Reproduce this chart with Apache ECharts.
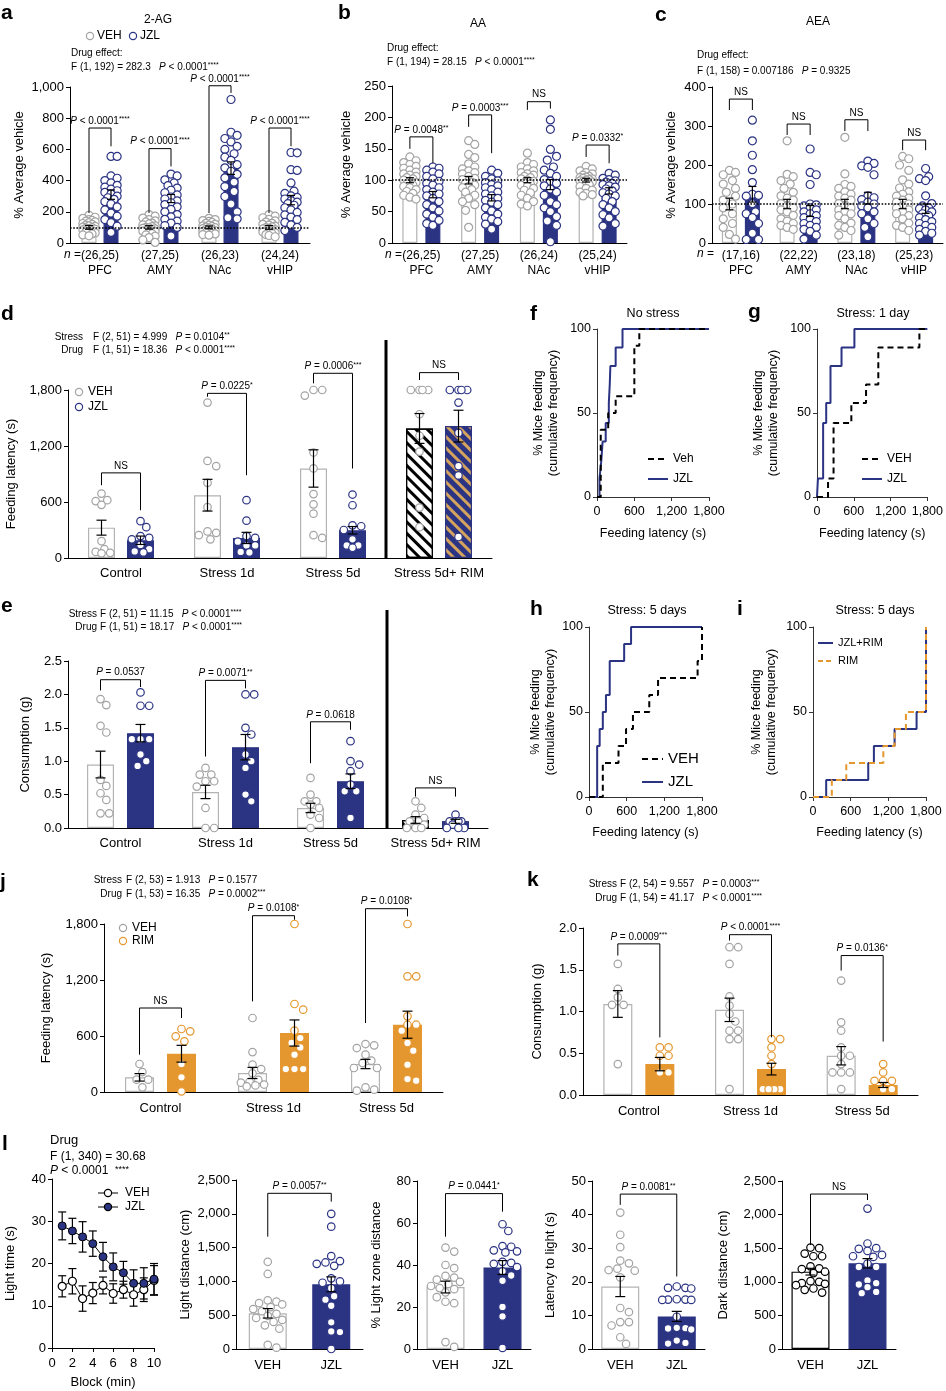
<!DOCTYPE html>
<html>
<head>
<meta charset="utf-8">
<script src="https://cdn.jsdelivr.net/npm/echarts@6/dist/echarts.min.js"></script>
<style>
html, body { margin: 0; background: #fff; }
#main { width: 946px; height: 1391px; }
</style>
</head>
<body>
<div id="main"></div>
<script>
// ---------- data ----------
var regions = ['PFC', 'AMY', 'NAc', 'vHIP'];

// a: 2-AG
var agN = ['(26,25)', '(27,25)', '(26,23)', '(24,24)'];
var agVehMean = [100, 100, 100, 100], agVehSem = [12, 11, 9, 12];
var agJzlMean = [310, 285, 480, 275], agJzlSem = [30, 26, 40, 30];
var agVehDots = [
  [178,165,158,150,145,140,135,130,125,120,115,110,106,102,98,95,92,88,84,80,75,70,64,58,52,46],
  [182,172,160,150,142,135,128,122,116,110,105,100,97,94,90,87,84,80,76,72,66,60,52,44,35,20,4],
  [158,150,144,138,132,126,120,115,110,106,102,98,95,92,89,86,83,80,77,74,70,66,62,58,54,50],
  [182,172,162,152,142,134,126,120,114,108,103,98,94,90,86,82,78,74,70,65,60,54,48,40]
];
var agJzlDots = [
  [555,555,430,415,400,385,370,358,345,335,325,315,300,290,280,265,250,232,212,192,172,150,130,108,68],
  [442,430,405,385,368,352,338,322,308,295,282,270,258,246,232,215,200,182,168,152,140,128,112,100,45],
  [920,710,690,670,648,620,600,572,550,530,502,482,460,440,418,390,362,330,298,250,200,162,155],
  [580,578,470,465,385,332,318,302,292,282,272,262,252,242,226,212,196,180,166,150,132,116,100,80]
];
var agBrackets = [[737,192,620], [605,192,491], [1008,192,962], [737,192,620]];
var agPText = ['P < 0.0001****', 'P < 0.0001****', 'P < 0.0001****', 'P < 0.0001****'];

// b: AA
var aaN = ['(26,25)', '(27,25)', '(26,24)', '(25,24)'];
var aaVehMean = [100, 100, 100, 100], aaVehSem = [4, 6, 4, 3];
var aaJzlMean = [77, 72, 93, 83], aaJzlSem = [5, 5, 8, 5];
var aaVehDots = [
  [137,131,128,125,122,119,116,113,110,108,106,104,102,100,98,96,94,92,90,88,85,82,79,76,73,70],
  [163,157,141,136,126,121,118,115,112,110,106,103,101,99,97,95,92,90,88,85,81,76,71,66,61,52,25],
  [143,128,125,121,118,115,112,110,108,106,104,102,100,98,96,94,92,90,87,84,80,76,71,66,62,59],
  [122,118,115,112,110,108,106,105,104,103,102,101,100,99,98,97,95,93,90,87,84,81,79,77,75]
];
var aaJzlDots = [
  [121,119,116,113,110,106,102,98,95,92,88,85,81,78,75,71,66,61,56,51,46,41,36,31,28],
  [116,111,106,102,99,96,93,91,88,85,81,78,75,71,68,65,61,56,51,46,41,38,34,30,22],
  [196,181,149,138,132,121,116,111,106,101,98,95,91,86,81,76,66,61,56,50,42,35,28,2],
  [111,108,103,101,99,97,95,93,91,89,86,83,80,78,75,71,66,61,56,50,45,40,31,27]
];
var aaBrackets = [[169,150,127], [204,185,143], [225,212,214], [156,137,127]];
var aaPText = ['P = 0.0048**', 'P = 0.0003***', 'NS', 'P = 0.0332*'];

// c: AEA
var aeaN = ['(17,16)', '(22,22)', '(23,18)', '(25,23)'];
var aeaVehMean = [100, 100, 100, 100], aeaVehSem = [15, 12, 12, 12];
var aeaJzlMean = [125, 82, 115, 88], aeaJzlSem = [20, 14, 15, 12];
var aeaVehDots = [
  [186,181,175,160,151,140,130,120,110,100,90,75,62,50,40,22,10],
  [262,176,170,160,151,140,130,121,115,110,101,95,90,85,80,71,62,56,50,45,40,35],
  [271,177,150,145,140,131,125,120,115,110,101,95,90,85,80,75,70,62,51,45,40,32,20],
  [222,216,200,186,162,151,141,131,125,120,115,110,105,100,95,90,85,80,75,70,62,51,45,40,32]
];
var aeaJzlDots = [
  [315,262,225,188,155,125,122,120,101,80,75,65,50,25,9,9],
  [241,181,175,150,100,98,95,90,85,80,75,70,65,60,55,50,45,40,35,30,20,10],
  [210,204,198,194,175,121,116,111,105,100,95,90,80,75,62,50,40,16],
  [191,170,165,160,121,101,95,90,88,85,80,75,70,65,60,55,50,45,40,35,30,25,20]
];
var aeaBrackets = [[369,341,341], [305,277,277], [316,287,287], [264,238,238]];
var aeaPText = ['NS', 'NS', 'NS', 'NS'];

// d: feeding latency, VEH vs JZL
var stressGroups = ['Control', 'Stress 1d', 'Stress 5d', 'Stress 5d+ RIM'];
var latVehMean = [325, 673, 959, 1388], latVehSem = [80, 170, 200, 160];
var latJzlMean = [190, 215, 297, 1413], latJzlSem = [45, 60, 40, 170];
var latVehDots = [
  [690,620,610,570,180,95,65,55,50],
  [1665,1040,985,805,545,285,270,245,200],
  [1800,1800,1740,1130,960,685,575,475,245,215],
  [1800,1800,1800,1800,1540,1310,1140,540,330]
];
var latJzlDots = [
  [395,330,235,215,200,140,95,70,60],
  [620,400,235,215,175,135,135,65,60],
  [680,565,350,340,300,200,135,135,110],
  [1800,1800,1800,1800,1665,1340,985,885,225]
];
var latBrackets = [[912,780,512], [1764,1728,887], [1979,1871,959], [1986,1907,1907]];
var latPText = ['NS', 'P = 0.0225*', 'P = 0.0006***', 'NS'];

// e: consumption, VEH vs JZL
var consVehMean = [0.95, 0.54, 0.30, 0.12], consVehSem = [0.2, 0.1, 0.07, 0.05];
var consJzlMean = [1.42, 1.21, 0.70, 0.10], consJzlSem = [0.13, 0.19, 0.11, 0.03];
var consVehDots = [
  [1.93,1.84,1.53,1.43,0.72,0.63,0.52,0.42,0.22,0.22],
  [0.9,0.8,0.8,0.7,0.7,0.62,0.3,0,0],
  [0.75,0.5,0.4,0.4,0.35,0.3,0.2,0.15,0],
  [0.4,0.3,0.2,0.15,0.1,0.1,0.05,0,0,0]
];
var consJzlDots = [
  [2.03,1.83,1.83,1.33,1.33,1.33,1.1,1.0,0.93],
  [2.0,2.0,1.5,1.4,1.1,1.0,0.9,0.5,0.4],
  [1.3,1.0,0.95,0.85,0.65,0.55,0.55,0.15],
  [0.2,0.1,0.1,0.1,0.1,0.05,0,0,0]
];
var consBrackets = [[2.22,2.06,2.11], [2.21,1.07,2.09], [1.59,0.97,1.47], [0.6,0.47,0.47]];
var consPText = ['P = 0.0537', 'P = 0.0071**', 'P = 0.0618', 'NS'];

// f-i: cumulative frequency (latency s, % mice feeding)
var fVehLat = [0,60,180,300,600,680,1800],            fVehPct = [0,40,50,60,90,100,100];
var fJzlLat = [0,40,70,90,140,190,205,215,300,410,1800], fJzlPct = [0,11,22,33,44,56,67,78,89,100,100];
var gVehLat = [0,180,270,560,800,1000,1670,1800],     gVehPct = [0,11,44,56,67,89,100,100];
var gJzlLat = [0,15,100,150,220,400,610,1800],        gJzlPct = [0,11,44,56,78,89,100,100];
var hVehLat = [0,220,470,590,700,960,1100,1730,1800], hVehPct = [0,20,30,40,50,60,70,80,100];
var hJzlLat = [0,130,170,220,270,330,560,670,1800],   hJzlPct = [0,30,40,50,60,80,90,100,100];
var iJrLat = [0,210,880,970,1300,1650,1800],          iJrPct = [0,10,20,30,40,50,100];
var iRimLat = [0,300,530,1120,1300,1480,1800],        iRimPct = [0,10,20,30,40,50,100];

// j: feeding latency, VEH vs RIM
var rimGroups = ['Control', 'Stress 1d', 'Stress 5d'];
var jVehMean = [157, 204, 300], jVehSem = [40, 60, 50];
var jRimMean = [410, 632, 721], jRimSem = [90, 140, 145];
var jVehDots = [
  [300,214,132,132,50],
  [793,428,293,246,200,130,110,100,80,70,60],
  [514,500,471,400,336,310,257,257,50,25,14]
];
var jRimDots = [
  [675,650,596,543,300,157,7],
  [1800,943,882,657,578,525,478,400,246,246,246],
  [1800,1239,1239,811,721,721,657,525,443,293,139,121]
];
var jBrackets = [[900,400,793], [1889,971,1846], [1964,739,1882]];
var jPText = ['NS', 'P = 0.0108*', 'P = 0.0108*'];

// k: consumption, VEH vs RIM
var kVehMean = [1.09, 1.02, 0.47], kVehSem = [0.16, 0.14, 0.11];
var kRimMean = [0.37, 0.31, 0.12], kRimSem = [0.08, 0.07, 0.03];
var kVehDots = [
  [1.57,1.27,1.17,1.08,1.08,0.37],
  [1.77,1.77,1.57,1.18,1.07,0.97,0.88,0.77,0.77,0.67,0.67,0.07],
  [1.37,0.87,0.77,0.57,0.47,0.47,0.37,0.27,0.27,0.27,0.07]
];
var kRimDots = [
  [0.57,0.57,0.47,0.47,0.27,0.27],
  [0.67,0.67,0.57,0.47,0.37,0.07,0.07,0.07,0.07,0.07],
  [0.37,0.27,0.17,0.17,0.17,0.07,0.07]
];
var kBrackets = [[1.81,1.67,0.69], [1.92,1.85,0.69], [1.67,1.49,0.64]];
var kPText = ['P = 0.0009***', 'P < 0.0001****', 'P = 0.0136*'];

// l: light/dark box
var blocks = [1, 2, 3, 4, 5, 6, 7, 8, 9, 10];
var ltVehMean = [14.6, 15.8, 11.7, 13.0, 14.8, 12.9, 13.8, 12.6, 13.8, 16.0];
var ltVehSem  = [2.5, 3.0, 3.0, 2.5, 2.0, 2.3, 2.0, 2.7, 2.8, 3.5];
var ltJzlMean = [28.9, 27.7, 26.3, 24.7, 21.6, 19.2, 17.8, 15.3, 15.3, 16.3];
var ltJzlSem  = [3.3, 3.0, 3.6, 3.0, 3.4, 3.3, 2.7, 3.2, 3.7, 3.7];

var ldMean = [528, 957], ldSem = [70, 110];
var ldVehDots = [1290,1110,720,700,680,660,620,590,560,520,490,460,430,400,350,300,60,20];
var ldJzlDots = [2000,1810,1375,1300,1280,1260,1230,1045,1000,980,900,780,730,640,395,260,250,0];
var lzMean = [29.5, 38.8], lzSem = [2.8, 3.3];
var lzVehDots = [48.3,46.4,40,38.5,34.8,34,33,32,31,30,29,28.5,27,24.7,22.5,21.8,3.3,1];
var lzJzlDots = [59.4,56.2,49,48.7,47,46.5,46,41.5,41,40.5,39,37,35,32.5,20,15.5,0.5];
var llMean = [18.6, 9.7], llSem = [3.0, 1.5];
var llVehDots = [40.6,34,30.3,26.3,25.5,23.9,23.5,23.3,21.3,12.2,11,8,8,7,3.5,1.5];
var llJzlDots = [18.6,18.2,18.2,18.0,14.8,14.7,14.7,14.6,14.6,9.6,6.3,6.2,6.1,5.8,2.5,1.8,1.6];
var ddMean = [1151, 1275], ddSem = [50, 70];
var ddVehDots = [1510,1500,1420,1380,1380,1230,1200,1190,1150,1130,1010,1000,980,970,950,900,880,840];
var ddJzlDots = [2090,1570,1500,1490,1460,1400,1380,1370,1270,1220,1220,1020,980,960,920,850,830];
var lBracketLd = [[2303,1662,2180]], lBracketLz = [[74,53.5,65.4]], lBracketLl = [[46.1,42.9,21.6]], lBracketDd = [[2306,1547,2217]];

// ---------- styling ----------
var FONT = "'Liberation Sans', Arial, Helvetica, sans-serif";
var NAVY = '#2b3383', GRAY = '#a3a3a3', VB = '#b3b3b3', ORANGE = '#e5972f', TAN = '#d4a35e', AX = '#333';

function comma(v) { return Number(v).toLocaleString('en-US'); }
function fix1(v) { return Number(v).toFixed(1); }
function fmtP(s) {
  return s.replace(/(^|\s)([Pn])(?=\s)/g, '$1{i|$2}').replace(/\*+/g, function (m) { return '{s|' + m + '}'; });
}
function richStyles(fs) {
  return {
    i: { fontStyle: 'italic', fontSize: fs, fontFamily: FONT, fill: '#000' },
    s: { fontSize: Math.round(fs * 0.72), fontFamily: FONT, verticalAlign: 'top', fill: '#000' }
  };
}

var option = {
  animation: false,
  backgroundColor: '#fff',
  textStyle: { fontFamily: FONT },
  grid: [], xAxis: [], yAxis: [], series: [], graphic: []
};

function txt(x, y, s, o) {
  o = o || {};
  var fs = o.size || 10;
  option.graphic.push({
    type: 'text', x: x, y: y, silent: true, z: 100,
    style: {
      text: o.raw ? s : fmtP(s), fill: '#000',
      font: (o.bold ? 'bold ' : '') + fs + 'px ' + FONT,
      textAlign: o.align || 'left', align: o.align || 'left',
      textVerticalAlign: 'middle', verticalAlign: 'middle',
      rich: richStyles(fs)
    }
  });
}
function gline(x1, y1, x2, y2, color, w, dash) {
  option.graphic.push({
    type: 'line', silent: true, z: 100,
    shape: { x1: x1, y1: y1, x2: x2, y2: y2 },
    style: { stroke: color, lineWidth: w, lineDash: dash || null }
  });
}
function gdot(x, y, stroke, fill) {
  option.graphic.push({
    type: 'circle', silent: true, z: 101, x: x, y: y,
    shape: { cx: 0, cy: 0, r: 3.6 },
    style: { fill: fill || '#fff', stroke: stroke, lineWidth: 1.2 }
  });
}

function yAx(gi, p) {
  var c = p.axisColor || '#000';
  return {
    type: 'value', gridIndex: gi, min: 0, max: p.yMax, interval: p.yStep,
    splitLine: { show: false },
    axisLine: { show: true, lineStyle: { color: c, width: 1 } },
    axisTick: { show: true, length: 4, lineStyle: { color: c } },
    axisLabel: { color: '#000', fontSize: p.yFont || 13, fontFamily: FONT, margin: 6, formatter: p.yFmt },
    name: p.yName, nameLocation: 'middle', nameGap: p.nameGap,
    nameTextStyle: { color: '#000', fontSize: p.nameFont || 13, fontFamily: FONT, lineHeight: 15 }
  };
}

// beeswarm offsets (pixels) so dots do not pile up on one line
function swarm(vals, k, d, maxW) {
  var order = vals.map(function (v, i) { return i; }).sort(function (a, b) { return vals[b] - vals[a]; });
  var cands = [0];
  for (var m = 1; m * d / 3 <= maxW + 0.01; m++) cands.push(m * d / 3, -m * d / 3);
  var placed = [], offs = [];
  order.forEach(function (i) {
    var y = vals[i] * k, best = 0, bestScore = -1;
    for (var c = 0; c < cands.length; c++) {
      var x = cands[c], mind = Infinity;
      placed.forEach(function (q) {
        var dd = Math.sqrt((q.x - x) * (q.x - x) + (q.y - y) * (q.y - y));
        if (dd < mind) mind = dd;
      });
      if (mind >= d * 0.95) { best = x; break; }
      if (mind > bestScore + 0.5) { bestScore = mind; best = x; }
    }
    placed.push({ x: best, y: y });
    offs[i] = best;
  });
  return offs;
}

function errRender(cap, w) {
  return function (params, api) {
    var x = api.coord([api.value(0), 0])[0] + api.value(3);
    var y1 = api.coord([api.value(0), api.value(1)])[1];
    var y2 = api.coord([api.value(0), api.value(2)])[1];
    var st = { stroke: '#000', lineWidth: w || 1.2 };
    return {
      type: 'group', children: [
        { type: 'line', shape: { x1: x, y1: y1, x2: x, y2: y2 }, style: st },
        { type: 'line', shape: { x1: x - cap, y1: y1, x2: x + cap, y2: y1 }, style: st },
        { type: 'line', shape: { x1: x - cap, y1: y2, x2: x + cap, y2: y2 }, style: st }
      ]
    };
  };
}

function barPanel(p) {
  var gi = option.grid.length;
  option.grid.push({ left: p.left, top: p.top, width: p.width, height: p.height });
  option.xAxis.push({
    type: 'category', gridIndex: gi, data: p.cats,
    axisLine: { lineStyle: { color: '#000' } },
    axisTick: { alignWithLabel: true, length: 4, lineStyle: { color: '#000' } },
    axisLabel: { color: '#000', fontSize: p.catFont || 13, fontFamily: FONT, margin: p.catMargin || 7, lineHeight: 15, interval: 0 }
  });
  option.yAxis.push(yAx(gi, p));
  var k = p.height / p.yMax, off = p.off || 0;
  var gap = off ? ((2 * off - p.bw) / p.bw * 100) + '%' : '-100%';
  p.sets.forEach(function (s, si) {
    var side = off ? (si === 0 ? -1 : 1) : 0;
    var bar = {
      type: 'bar', xAxisIndex: gi, yAxisIndex: gi, barWidth: p.bw, barGap: gap, silent: true, z: 1,
      itemStyle: { color: s.fill, borderColor: s.border, borderWidth: 1.2 },
      data: s.mean.map(function (m, i) {
        if (m == null) return '-';
        var it = { value: m };
        if (s.special && s.special[i]) it.itemStyle = s.special[i];
        return it;
      })
    };
    if (p.refLine != null && si === 0) {
      bar.markLine = {
        silent: true, symbol: ['none', 'none'], label: { show: false },
        lineStyle: { type: 'dotted', color: '#000', width: 1.6 },
        data: [{ yAxis: p.refLine }]
      };
    }
    option.series.push(bar);
    var pts = [];
    s.dots.forEach(function (arr, i) {
      if (!arr) return;
      var offs = swarm(arr, k, p.dot + 1.2, p.spread);
      arr.forEach(function (v, j) {
        pts.push({ value: [i, v], symbolOffset: [side * off + offs[j], 0] });
      });
    });
    option.series.push({
      type: 'scatter', xAxisIndex: gi, yAxisIndex: gi, symbol: 'circle', symbolSize: p.dot,
      silent: true, z: 3, clip: false, data: pts,
      itemStyle: { color: '#fff', borderColor: s.dotColor, borderWidth: 1.2, opacity: 1 }
    });
    var eb = [];
    s.mean.forEach(function (m, i) {
      if (m != null) eb.push([i, m - s.sem[i], m + s.sem[i], side * off]);
    });
    option.series.push({
      type: 'custom', xAxisIndex: gi, yAxisIndex: gi, z: 4, silent: true, clip: false,
      data: eb, renderItem: errRender(p.cap || 4)
    });
  });
  if (p.brackets) {
    var fs = p.pFont || 10;
    option.series.push({
      type: 'custom', xAxisIndex: gi, yAxisIndex: gi, z: 5, silent: true, clip: false,
      data: p.brackets.map(function (b, i) {
        return off ? [i, i, b[0], b[1], b[2]] : [0, 1, b[0], b[1], b[2]];
      }),
      renderItem: function (params, api) {
        var xl = api.coord([api.value(0), 0])[0] - off;
        var xr = api.coord([api.value(1), 0])[0] + off;
        var yt = api.coord([0, api.value(2)])[1];
        var yl = api.coord([0, api.value(3)])[1];
        var yr = api.coord([0, api.value(4)])[1];
        return {
          type: 'group', children: [
            { type: 'polyline', shape: { points: [[xl, yl], [xl, yt], [xr, yt], [xr, yr]] },
              style: { stroke: '#000', lineWidth: 1, fill: 'none' } },
            { type: 'text', style: {
                text: fmtP(p.pText[params.dataIndex]), x: (xl + xr) / 2, y: yt - 2, fill: '#000',
                font: fs + 'px ' + FONT, textAlign: 'center', align: 'center',
                textVerticalAlign: 'bottom', verticalAlign: 'bottom', rich: richStyles(fs) } }
          ]
        };
      }
    });
  }
}

function cdfPanel(p) {
  var gi = option.grid.length;
  option.grid.push({ left: p.left, top: p.top, width: p.width, height: p.height });
  option.xAxis.push({
    type: 'value', gridIndex: gi, min: 0, max: 1800, interval: 600, splitLine: { show: false },
    axisLine: { lineStyle: { color: AX } }, axisTick: { show: true, length: 4, lineStyle: { color: AX } },
    axisLabel: { color: '#000', fontSize: 12.5, fontFamily: FONT, margin: 8, formatter: comma },
    name: 'Feeding latency (s)', nameLocation: 'middle', nameGap: p.xGap,
    nameTextStyle: { color: '#000', fontSize: 12.5, fontFamily: FONT }
  });
  option.yAxis.push(yAx(gi, {
    yMax: 100, yStep: 50, yName: '% Mice feeding\n(cumulative frequency)', nameGap: p.nameGap,
    axisColor: AX, yFont: 12.5, nameFont: 12.5
  }));
  p.lines.forEach(function (l) {
    option.series.push({
      type: 'line', xAxisIndex: gi, yAxisIndex: gi, step: 'end', symbol: 'none', silent: true,
      clip: false, z: l.dash ? 3 : 2,
      data: l.lat.map(function (x, i) { return [x, l.pct[i]]; }),
      lineStyle: { color: l.color, width: 2, type: l.dash ? [6, 4] : 'solid' }
    });
  });
}

var vehSet = function (mean, sem, dots, special) {
  return { fill: '#fff', border: VB, dotColor: GRAY, mean: mean, sem: sem, dots: dots, special: special };
};
var jzlSet = function (mean, sem, dots, special) {
  return { fill: NAVY, border: NAVY, dotColor: NAVY, mean: mean, sem: sem, dots: dots, special: special };
};
var rimSet = function (mean, sem, dots) {
  return { fill: ORANGE, border: ORANGE, dotColor: ORANGE, mean: mean, sem: sem, dots: dots };
};
function hatch(fill, border, stripe) {
  return {
    color: fill, borderColor: border, borderWidth: 1.2,
    decal: { symbol: 'rect', symbolSize: 1, color: stripe, dashArrayX: [1, 0], dashArrayY: [3, 5], rotation: Math.PI / 4 }
  };
}
function withN(n) { return regions.map(function (r, i) { return n[i] + '\n' + r; }); }

// ---------- a, b, c ----------
var abcCommon = { yFmt: comma, yName: '% Average vehicle', bw: 15, dot: 8, cap: 4, spread: 6.5, catFont: 12, catMargin: 5, refLine: 100, pFont: 10 };
barPanel(Object.assign({}, abcCommon, {
  left: 70, top: 87, width: 240, height: 156, cats: withN(agN), yMax: 1000, yStep: 200, nameGap: 43, off: 11,
  brackets: agBrackets, pText: agPText,
  sets: [vehSet(agVehMean, agVehSem, agVehDots), jzlSet(agJzlMean, agJzlSem, agJzlDots)]
}));
barPanel(Object.assign({}, abcCommon, {
  left: 392, top: 86, width: 235, height: 157, cats: withN(aaN), yMax: 250, yStep: 50, nameGap: 38, off: 11.5,
  brackets: aaBrackets, pText: aaPText,
  sets: [vehSet(aaVehMean, aaVehSem, aaVehDots), jzlSet(aaJzlMean, aaJzlSem, aaJzlDots)]
}));
barPanel(Object.assign({}, abcCommon, {
  left: 712, top: 87, width: 231, height: 156, cats: withN(aeaN), yMax: 400, yStep: 100, nameGap: 33, off: 11.5,
  brackets: aeaBrackets, pText: aeaPText,
  sets: [vehSet(aeaVehMean, aeaVehSem, aeaVehDots), jzlSet(aeaJzlMean, aeaJzlSem, aeaJzlDots)]
}));

// ---------- d, e ----------
barPanel({
  left: 68, top: 390, width: 424, height: 168, cats: stressGroups, yMax: 1800, yStep: 600, yFmt: comma,
  yName: 'Feeding latency (s)', nameGap: 49, bw: 27, off: 19.5, dot: 7.5, cap: 5, spread: 11, catMargin: 8,
  brackets: latBrackets, pText: latPText,
  sets: [
    vehSet(latVehMean, latVehSem, latVehDots, [null, null, null, hatch('#fff', '#000', '#000')]),
    jzlSet(latJzlMean, latJzlSem, latJzlDots, [null, null, null, hatch(NAVY, NAVY, TAN)])
  ]
});
barPanel({
  left: 68, top: 661, width: 420, height: 167, cats: stressGroups, yMax: 2.5, yStep: 0.5, yFmt: fix1,
  yName: 'Consumption (g)', nameGap: 35, bw: 27, off: 20, dot: 7.5, cap: 5, spread: 11, catMargin: 8,
  brackets: consBrackets, pText: consPText,
  sets: [
    vehSet(consVehMean, consVehSem, consVehDots, [null, null, null, hatch('#fff', '#000', '#000')]),
    jzlSet(consJzlMean, consJzlSem, consJzlDots, [null, null, null, hatch(NAVY, NAVY, TAN)])
  ]
});

// ---------- f, g, h, i ----------
cdfPanel({ left: 597, top: 329, width: 112, height: 168, nameGap: 36, xGap: 30, lines: [
  { lat: fJzlLat, pct: fJzlPct, color: NAVY }, { lat: fVehLat, pct: fVehPct, color: '#000', dash: true }] });
cdfPanel({ left: 817, top: 329, width: 112, height: 168, nameGap: 36, xGap: 30, lines: [
  { lat: gJzlLat, pct: gJzlPct, color: NAVY }, { lat: gVehLat, pct: gVehPct, color: '#000', dash: true }] });
cdfPanel({ left: 589, top: 627, width: 113, height: 170, nameGap: 30, xGap: 29, lines: [
  { lat: hJzlLat, pct: hJzlPct, color: NAVY }, { lat: hVehLat, pct: hVehPct, color: '#000', dash: true }] });
cdfPanel({ left: 813, top: 627, width: 113, height: 170, nameGap: 34, xGap: 29, lines: [
  { lat: iJrLat, pct: iJrPct, color: NAVY }, { lat: iRimLat, pct: iRimPct, color: ORANGE, dash: true }] });

// ---------- j, k ----------
barPanel({
  left: 104, top: 924, width: 339, height: 168, cats: rimGroups, yMax: 1800, yStep: 600, yFmt: comma,
  yName: 'Feeding latency (s)', nameGap: 50, bw: 29, off: 21, dot: 7.5, cap: 5, spread: 12, catMargin: 9,
  brackets: jBrackets, pText: jPText,
  sets: [vehSet(jVehMean, jVehSem, jVehDots), rimSet(jRimMean, jRimSem, jRimDots)]
});
barPanel({
  left: 583, top: 928, width: 335, height: 167, cats: rimGroups, yMax: 2, yStep: 0.5, yFmt: fix1,
  yName: 'Consumption (g)', nameGap: 38, bw: 29, off: 21, dot: 7.5, cap: 5, spread: 12, catMargin: 9,
  brackets: kBrackets, pText: kPText,
  sets: [vehSet(kVehMean, kVehSem, kVehDots), rimSet(kRimMean, kRimSem, kRimDots)]
});

// ---------- l ----------
(function () {
  var gi = option.grid.length;
  option.grid.push({ left: 52, top: 1179, width: 102, height: 169 });
  option.xAxis.push({
    type: 'value', gridIndex: gi, min: 0, max: 10, interval: 2, splitLine: { show: false },
    axisLine: { lineStyle: { color: '#000' } }, axisTick: { show: true, length: 4, lineStyle: { color: '#000' } },
    axisLabel: { color: '#000', fontSize: 13, fontFamily: FONT, margin: 9 },
    name: 'Block (min)', nameLocation: 'middle', nameGap: 28,
    nameTextStyle: { color: '#000', fontSize: 13, fontFamily: FONT }
  });
  option.yAxis.push(yAx(gi, { yMax: 40, yStep: 10, yName: 'Light time (s)', nameGap: 34 }));
  [[ltVehMean, ltVehSem], [ltJzlMean, ltJzlSem]].forEach(function (ms) {
    option.series.push({
      type: 'custom', xAxisIndex: gi, yAxisIndex: gi, z: 2, silent: true, clip: false,
      data: blocks.map(function (b, i) { return [b, ms[0][i] - ms[1][i], ms[0][i] + ms[1][i], 0]; }),
      renderItem: errRender(4, 1.2)
    });
  });
  option.series.push({
    type: 'line', xAxisIndex: gi, yAxisIndex: gi, z: 3, silent: true,
    data: blocks.map(function (b, i) { return [b, ltVehMean[i]]; }),
    symbol: 'circle', symbolSize: 8, showAllSymbol: true,
    lineStyle: { color: '#000', width: 1 },
    itemStyle: { color: '#fff', borderColor: '#000', borderWidth: 1.2 }
  });
  option.series.push({
    type: 'line', xAxisIndex: gi, yAxisIndex: gi, z: 4, silent: true,
    data: blocks.map(function (b, i) { return [b, ltJzlMean[i]]; }),
    symbol: 'circle', symbolSize: 8, showAllSymbol: true,
    lineStyle: { color: '#000', width: 1 },
    itemStyle: { color: NAVY, borderColor: '#000', borderWidth: 1 }
  });
})();

var lCommon = { cats: ['VEH', 'JZL'], bw: 38, off: 0, dot: 7.5, cap: 5, spread: 15, catMargin: 9 };
barPanel(Object.assign({}, lCommon, {
  left: 236, top: 1180, width: 127, height: 169, yMax: 2500, yStep: 500, yFmt: comma,
  yName: 'Light distance (cm)', nameGap: 43, brackets: lBracketLd, pText: ['P = 0.0057**'],
  sets: [vehSet([ldMean[0], null], [ldSem[0], null], [ldVehDots, null]), jzlSet([null, ldMean[1]], [null, ldSem[1]], [null, ldJzlDots])]
}));
barPanel(Object.assign({}, lCommon, {
  left: 417, top: 1181, width: 114, height: 168, yMax: 80, yStep: 20,
  yName: '% Light zone distance', nameGap: 33, brackets: lBracketLz, pText: ['P = 0.0441*'],
  sets: [vehSet([lzMean[0], null], [lzSem[0], null], [lzVehDots, null]), jzlSet([null, lzMean[1]], [null, lzSem[1]], [null, lzJzlDots])]
}));
barPanel(Object.assign({}, lCommon, {
  left: 592, top: 1181, width: 113, height: 168, yMax: 50, yStep: 10,
  yName: 'Latency to light (s)', nameGap: 34, brackets: lBracketLl, pText: ['P = 0.0081**'],
  sets: [vehSet([llMean[0], null], [llSem[0], null], [llVehDots, null]), jzlSet([null, llMean[1]], [null, llSem[1]], [null, llJzlDots])]
}));
barPanel(Object.assign({}, lCommon, {
  left: 782, top: 1181, width: 114, height: 168, yMax: 2500, yStep: 500, yFmt: comma,
  yName: 'Dark distance (cm)', nameGap: 51, brackets: lBracketDd, pText: ['NS'],
  sets: [
    { fill: '#fff', border: '#000', dotColor: '#000', mean: [ddMean[0], null], sem: [ddSem[0], null], dots: [ddVehDots, null] },
    jzlSet([null, ddMean[1]], [null, ddSem[1]], [null, ddJzlDots])
  ]
}));

// ---------- panel letters, titles, statistics, legends ----------
[['a', 1, 13], ['b', 338, 13], ['c', 655, 15], ['d', 1, 314], ['f', 530, 314], ['g', 748, 312],
 ['e', 1, 606], ['h', 530, 609], ['i', 737, 609], ['j', 0, 882], ['k', 527, 880], ['l', 2, 1144]]
  .forEach(function (t) { txt(t[1], t[2], t[0], { size: 21, bold: true, raw: true }); });

txt(158, 20, '2-AG', { size: 12, align: 'center' });
txt(478, 24, 'AA', { size: 12, align: 'center' });
txt(818, 22, 'AEA', { size: 12, align: 'center' });
txt(653, 314, 'No stress', { size: 12.5, align: 'center' });
txt(873, 314, 'Stress: 1 day', { size: 12.5, align: 'center' });
txt(647, 611, 'Stress: 5 days', { size: 12.5, align: 'center' });
txt(875, 611, 'Stress: 5 days', { size: 12.5, align: 'center' });

txt(71, 53, 'Drug effect:');
txt(71, 67, 'F (1, 192) = 282.3   P < 0.0001****');
txt(387, 48, 'Drug effect:');
txt(387, 62, 'F (1, 194) = 28.15   P < 0.0001****');
txt(697, 55, 'Drug effect:');
txt(697, 71, 'F (1, 158) = 0.007186   P = 0.9325');
txt(64, 255, 'n =', { size: 12 });
txt(385, 255, 'n =', { size: 12 });
txt(697, 254, 'n =', { size: 12 });

txt(83, 337, 'Stress', { align: 'right' });  txt(93, 337, 'F (2, 51) = 4.999   P = 0.0104**');
txt(83, 350, 'Drug', { align: 'right' });    txt(93, 350, 'F (1, 51) = 18.36   P < 0.0001****');
txt(97, 614, 'Stress', { align: 'right' });  txt(100, 614, 'F (2, 51) = 11.15   P < 0.0001****');
txt(97, 627, 'Drug', { align: 'right' });    txt(100, 627, 'F (1, 51) = 18.17   P < 0.0001****');
txt(122, 880, 'Stress', { align: 'right' }); txt(126, 880, 'F (2, 53) = 1.913   P = 0.1577');
txt(122, 894, 'Drug', { align: 'right' });   txt(126, 894, 'F (1, 53) = 16.35   P = 0.0002***');
txt(617, 884, 'Stress', { align: 'right' }); txt(620, 884, 'F (2, 54) = 9.557   P = 0.0003***');
txt(617, 898, 'Drug', { align: 'right' });   txt(620, 898, 'F (1, 54) = 41.17   P < 0.0001****');
txt(50, 1140, 'Drug', { size: 13 });
txt(50, 1157, 'F (1, 340) = 30.68', { size: 12 });
txt(50, 1171, 'P < 0.0001  ****', { size: 12 });

// separators before the RIM groups
gline(386, 340, 386, 558, '#000', 3);
gline(387, 610, 387, 828, '#000', 3);

// legends
gdot(90, 36, GRAY); txt(97, 36, 'VEH', { size: 12 });
gdot(133, 36, NAVY); txt(140, 36, 'JZL', { size: 12 });
gdot(79, 392, GRAY); txt(88, 392, 'VEH', { size: 12 });
gdot(79, 407, NAVY); txt(88, 407, 'JZL', { size: 12 });
gdot(123, 928, GRAY); txt(132, 928, 'VEH', { size: 12 });
gdot(123, 941, ORANGE); txt(132, 941, 'RIM', { size: 12 });
gline(648, 459, 668, 459, '#000', 2, [6, 4]); txt(673, 459, 'Veh', { size: 12 });
gline(648, 479, 668, 479, NAVY, 2); txt(673, 479, 'JZL', { size: 12 });
gline(862, 459, 882, 459, '#000', 2, [6, 4]); txt(887, 459, 'VEH', { size: 12 });
gline(862, 479, 882, 479, NAVY, 2); txt(887, 479, 'JZL', { size: 12 });
gline(642, 759, 663, 759, '#000', 2, [6, 4]); txt(668, 759, 'VEH', { size: 15 });
gline(642, 782, 663, 782, NAVY, 2); txt(668, 782, 'JZL', { size: 15 });
gline(818, 643, 833, 643, NAVY, 2); txt(838, 643, 'JZL+RIM', { size: 11 });
gline(818, 661, 833, 661, ORANGE, 2, [5, 3]); txt(838, 661, 'RIM', { size: 11 });
gline(98, 1193, 118, 1193, '#000', 1); gdot(108, 1193, '#000', '#fff'); txt(125, 1193, 'VEH', { size: 12 });
gline(98, 1207, 118, 1207, '#000', 1); gdot(108, 1207, '#000', NAVY); txt(125, 1207, 'JZL', { size: 12 });

var chart = echarts.init(document.getElementById('main'), null, { renderer: 'canvas' });
chart.setOption(option);
</script>
</body>
</html>
